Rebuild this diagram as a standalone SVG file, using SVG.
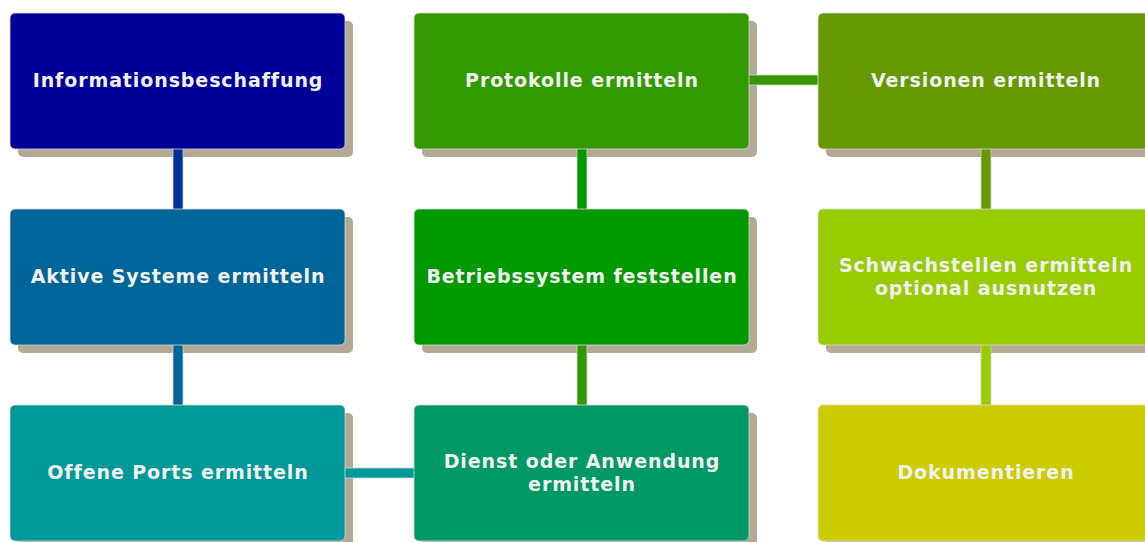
<svg xmlns="http://www.w3.org/2000/svg" width="1145" height="542" viewBox="0 0 1145 542">
<style>
.shadow{fill:#b3a995}
.box{stroke:#d8d8d8;stroke-width:0.8}
.lbl{font-family:"DejaVu Sans",Verdana,sans-serif;font-weight:bold;font-size:19px;letter-spacing:0.9px;fill:#f0f0f0;text-anchor:middle}
.con{stroke:#cfcfcf;stroke-width:0.8}
</style>
<rect width="1145" height="542" fill="#ffffff"/>
<g id="shadows">
<rect class="shadow" x="18" y="21" width="335" height="136" rx="5"/>
<rect class="shadow" x="18" y="217" width="335" height="136" rx="5"/>
<rect class="shadow" x="18" y="413" width="335" height="136" rx="5"/>
<rect class="shadow" x="422" y="21" width="335" height="136" rx="5"/>
<rect class="shadow" x="422" y="217" width="335" height="136" rx="5"/>
<rect class="shadow" x="422" y="413" width="335" height="136" rx="5"/>
<rect class="shadow" x="826" y="21" width="335" height="136" rx="5"/>
<rect class="shadow" x="826" y="217" width="335" height="136" rx="5"/>
<rect class="shadow" x="826" y="413" width="335" height="136" rx="5"/>
</g>
<g id="connectors">
<rect class="con" x="173" y="148" width="10" height="62" fill="#003399"/>
<rect class="con" x="173" y="344" width="10" height="62" fill="#006699"/>
<rect class="con" x="344" y="468" width="71" height="10" fill="#009999"/>
<rect class="con" x="577" y="344" width="10" height="62" fill="#339900"/>
<rect class="con" x="577" y="148" width="10" height="62" fill="#009900"/>
<rect class="con" x="747" y="75" width="72" height="10" fill="#339900"/>
<rect class="con" x="981" y="148" width="10" height="62" fill="#669900"/>
<rect class="con" x="981" y="344" width="10" height="62" fill="#99cc00"/>
</g>
<g id="n1"><rect class="box" x="10" y="13" width="335" height="136" rx="5" fill="#000099"/><text class="lbl" x="178" y="87">Informationsbeschaffung</text></g>
<g id="n2"><rect class="box" x="10" y="209" width="335" height="136" rx="5" fill="#006699"/><text class="lbl" x="178" y="283">Aktive Systeme ermitteln</text></g>
<g id="n3"><rect class="box" x="10" y="405" width="335" height="136" rx="5" fill="#009999"/><text class="lbl" x="178" y="479">Offene Ports ermitteln</text></g>
<g id="n4"><rect class="box" x="414" y="405" width="335" height="136" rx="5" fill="#009966"/><text class="lbl" x="582" y="468">Dienst oder Anwendung</text><text class="lbl" x="582" y="491">ermitteln</text></g>
<g id="n5"><rect class="box" x="414" y="209" width="335" height="136" rx="5" fill="#009900"/><text class="lbl" x="582" y="283">Betriebssystem feststellen</text></g>
<g id="n6"><rect class="box" x="414" y="13" width="335" height="136" rx="5" fill="#339900"/><text class="lbl" x="582" y="87">Protokolle ermitteln</text></g>
<g id="n7"><rect class="box" x="818" y="13" width="335" height="136" rx="5" fill="#669900"/><text class="lbl" x="986" y="87">Versionen ermitteln</text></g>
<g id="n8"><rect class="box" x="818" y="209" width="335" height="136" rx="5" fill="#99cc00"/><text class="lbl" x="986" y="272">Schwachstellen ermitteln</text><text class="lbl" x="986" y="295">optional ausnutzen</text></g>
<g id="n9"><rect class="box" x="818" y="405" width="335" height="136" rx="5" fill="#cccc00"/><text class="lbl" x="986" y="479">Dokumentieren</text></g>
</svg>
